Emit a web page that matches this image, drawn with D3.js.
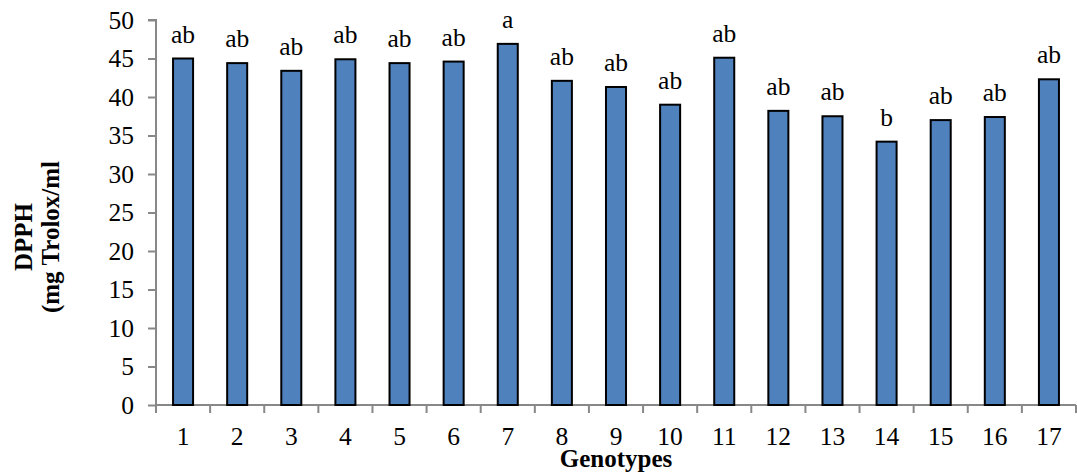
<!DOCTYPE html>
<html><head><meta charset="utf-8">
<script src="https://cdn.jsdelivr.net/npm/d3@7"></script>
<style>body{margin:0;background:#fff}svg{display:block}</style>
</head><body>
<svg id="c" width="1077" height="476"></svg>
<script>
const categories = ["1","2","3","4","5","6","7","8","9","10","11","12","13","14","15","16","17"];
const values = [45.0,44.4,43.4,44.9,44.4,44.6,46.9,42.1,41.3,39.0,45.1,38.2,37.5,34.2,37.0,37.4,42.3];
const letters = ["ab","ab","ab","ab","ab","ab","a","ab","ab","ab","ab","ab","ab","b","ab","ab","ab"];
const yTicks = [0,5,10,15,20,25,30,35,40,45,50];

(function () {
const svg = d3.select("#c");
const mLeft = 156, mRight = 1076, mTop = 20, mBottom = 405;
const font = "'Liberation Serif','Times New Roman',serif";
const fs = 25.5;

const x = d3.scaleBand().domain(categories).range([mLeft, mRight]).paddingInner(0.63).paddingOuter(0.315);
const y = d3.scaleLinear().domain([0, 50]).range([mBottom, mTop]);
const step = x.step();

// y axis
const yAxis = svg.append("g").attr("transform", `translate(${mLeft},0)`)
  .call(d3.axisLeft(y).tickValues(yTicks).tickSize(8).tickPadding(14).tickFormat(d3.format("d")));
yAxis.select(".domain").attr("stroke", "#888").attr("stroke-width", 2).attr("d", `M-8,${mTop}H0V${mBottom}`);
yAxis.selectAll(".tick line").attr("stroke", "#888").attr("stroke-width", 2);
yAxis.selectAll("text").attr("font-family", font).attr("font-size", fs).attr("fill", "#000");

// x axis
const gx = svg.append("g");
gx.append("line").attr("x1", mLeft).attr("x2", mRight).attr("y1", mBottom).attr("y2", mBottom)
  .attr("stroke", "#888").attr("stroke-width", 2);
const bounds = categories.map(c => x(c) - (step - x.bandwidth()) / 2).concat([mRight]);
gx.selectAll("line.t").data(bounds).enter().append("line").attr("class", "t")
  .attr("x1", d => d).attr("x2", d => d).attr("y1", mBottom).attr("y2", mBottom + 8)
  .attr("stroke", "#888").attr("stroke-width", 2);
gx.selectAll("text").data(categories).enter().append("text")
  .attr("x", d => x(d) + x.bandwidth() / 2).attr("y", 445)
  .attr("text-anchor", "middle").attr("font-family", font).attr("font-size", fs).text(d => d);

// bars
svg.append("g").selectAll("rect").data(values).enter().append("rect")
  .attr("x", (d, i) => x(categories[i])).attr("width", x.bandwidth())
  .attr("y", d => y(d)).attr("height", d => mBottom - y(d))
  .attr("fill", "#4F81BD").attr("stroke", "#000").attr("stroke-width", 2);

// letters
svg.append("g").selectAll("text").data(values).enter().append("text")
  .attr("x", (d, i) => x(categories[i]) + x.bandwidth() / 2).attr("y", d => y(d) - 16)
  .attr("text-anchor", "middle").attr("font-family", font).attr("font-size", fs)
  .text((d, i) => letters[i]);

// axis titles
svg.append("text").attr("x", (mLeft + mRight) / 2).attr("y", 467).attr("text-anchor", "middle")
  .attr("font-family", font).attr("font-size", 25).attr("font-weight", "bold").text("Genotypes");
svg.append("text").attr("transform", "translate(32,237) rotate(-90)").attr("text-anchor", "middle")
  .attr("font-family", font).attr("font-size", 25).attr("font-weight", "bold").text("DPPH");
svg.append("text").attr("transform", "translate(59,237) rotate(-90)").attr("text-anchor", "middle")
  .attr("font-family", font).attr("font-size", 25).attr("font-weight", "bold").text("(mg Trolox/ml");
})();
</script>
</body></html>
